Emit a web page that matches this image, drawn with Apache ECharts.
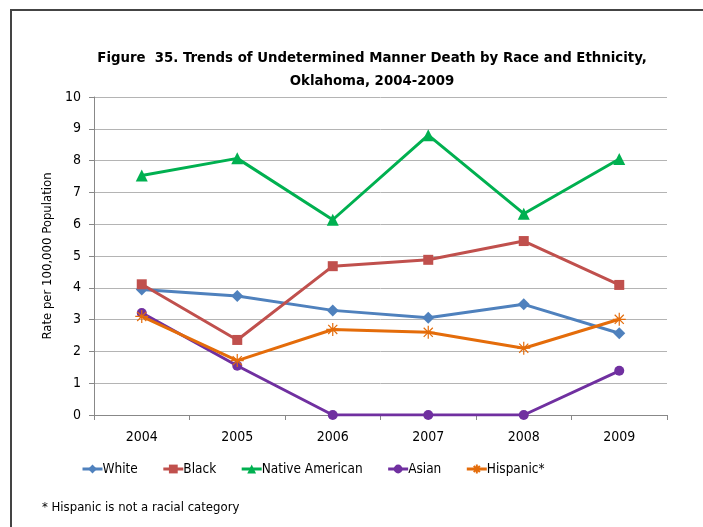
<!DOCTYPE html>
<html><head><meta charset="utf-8">
<script src="https://cdn.jsdelivr.net/npm/echarts@6/dist/echarts.min.js"></script>
<style>html,body{margin:0;padding:0;background:#fff}#c{width:703px;height:527px}</style>
</head><body><div id="c"></div>
<script>
var years = ['2004','2005','2006','2007','2008','2009'];
var white = [3.95, 3.74, 3.29, 3.06, 3.48, 2.57];
var black = [4.11, 2.36, 4.68, 4.88, 5.47, 4.09];
var nativeAm = [7.53, 8.07, 6.14, 8.80, 6.33, 8.05];
var asian = [3.21, 1.55, 0, 0, 0, 1.39];
var hispanic = [3.10, 1.71, 2.69, 2.60, 2.10, 3.01];
var yTicks = [0,1,2,3,4,5,6,7,8,9,10];

var F = "'DejaVu Sans Condensed','Liberation Sans Narrow','Arial Narrow',sans-serif";
var asterisk = 'path://M5,0 L5,10 M0,5 L10,5 M1.5,1.5 L8.5,8.5 M1.5,8.5 L8.5,1.5';

function s(name, data, color, symbol, size, extra) {
  var o = {
    name: name, type: 'line', data: data, symbol: symbol, symbolSize: size,
    lineStyle: {color: color, width: 3}, itemStyle: {color: color},
    emphasis: {disabled: true}, animation: false, z: 3
  };
  if (extra) Object.assign(o.itemStyle, extra);
  return o;
}

var chart = echarts.init(document.getElementById('c'), null, {renderer: 'canvas'});
chart.setOption({
  backgroundColor: '#fff',
  animation: false,
  textStyle: {fontFamily: F},
  title: {
    text: 'Figure  35. Trends of Undetermined Manner Death by Race and Ethnicity,\nOklahoma, 2004-2009',
    left: 367, top: 42, textAlign: 'center',
    textStyle: {fontFamily: F, fontSize: 14.8, fontWeight: 'bold', color: '#000', lineHeight: 23}
  },
  grid: {left: 94, right: 36, top: 97, bottom: 112, containLabel: false},
  legend: {
    left: 76, top: 457, itemGap: 24, itemWidth: 20, itemHeight: 11,
    lineStyle: {width: 3},
    textStyle: {fontFamily: F, fontSize: 13.5, color: '#000', padding: [0,0,0,-5]},
    data: ['White','Black','Native American','Asian','Hispanic*']
  },
  xAxis: {
    type: 'category', data: years, boundaryGap: true,
    axisLine: {lineStyle: {color: '#888', width: 1}},
    axisTick: {show: true, length: 5, lineStyle: {color: '#888'}},
    axisLabel: {fontFamily: F, fontSize: 14, color: '#000', margin: 15}
  },
  yAxis: {
    type: 'value', min: yTicks[0], max: yTicks[yTicks.length-1], interval: 1,
    name: 'Rate per 100,000 Population', nameLocation: 'middle', nameGap: 40,
    nameTextStyle: {fontFamily: F, fontSize: 13, color: '#000'},
    axisLine: {show: true, lineStyle: {color: '#888'}},
    axisTick: {show: true, length: 5, inside: false, lineStyle: {color: '#888'}},
    axisLabel: {fontFamily: F, fontSize: 14, color: '#000', margin: 13},
    splitLine: {lineStyle: {color: '#b4b4b4', width: 1}}
  },
  series: [
    s('White', white, '#4F81BD', 'diamond', 12),
    s('Black', black, '#C0504D', 'rect', 10),
    s('Native American', nativeAm, '#00B050', 'triangle', 12),
    s('Asian', asian, '#7030A0', 'circle', 10),
    s('Hispanic*', hispanic, '#E46C0A', asterisk, 13, {borderColor: '#E46C0A', borderWidth: 1.2, color: 'none'})
  ],
  graphic: [
    {type: 'rect', shape: {x: 11, y: 10, width: 720, height: 540}, style: {fill: 'none', stroke: '#444', lineWidth: 2}, silent: true},
    {type: 'text', left: 42, top: 501, style: {text: '* Hispanic is not a racial category', font: '13px ' + F, fill: '#000'}}
  ]
});
</script></body></html>
